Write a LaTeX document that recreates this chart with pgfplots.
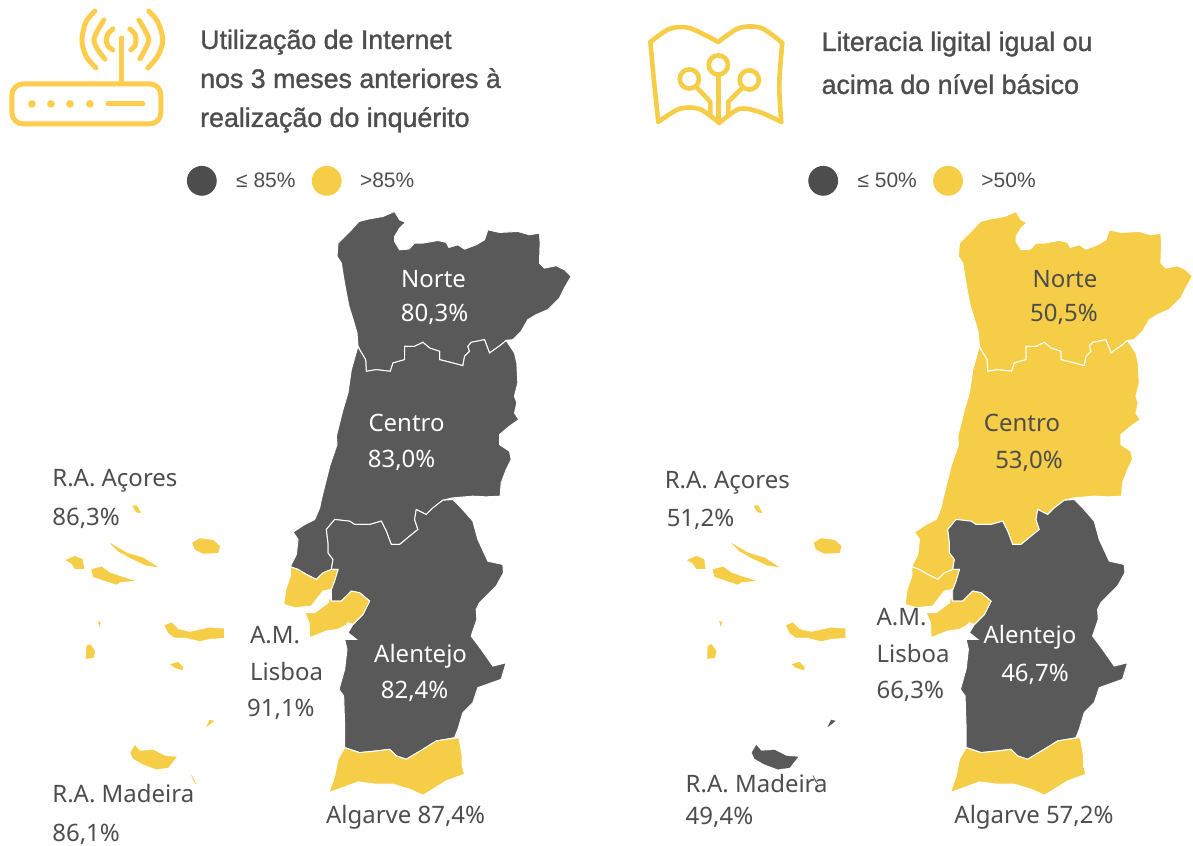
\documentclass[border=0pt]{standalone}
\usepackage{pgfplots}
\usepackage{pgfplotstable}
\usepackage{fontspec}
\pgfplotsset{compat=1.18}
\setmainfont{Liberation Sans}
\newfontfamily\mapfont{Noto Sans}
\definecolor{darkmap}{HTML}{595959}
\definecolor{yellowmap}{HTML}{F5CD47}
\definecolor{darkleg}{HTML}{4D4D4D}
\definecolor{iconr}{HTML}{FFCC4D}
\definecolor{txt}{HTML}{4D4D4D}

% outlines, read from 3x crops: crop px / 3 + crop origin
\pgfplotstableread[row sep=\\]{x y\\
235 440\\ 232 400\\ 222 365\\ 208 320\\ 200 280\\ 192 235\\ 185 190\\ 172 170\\ 175 130\\ 200 105\\ 215 90\\ 238 65\\ 265 58\\ 310 50\\ 345 35\\ 360 60\\ 378 68\\ 360 85\\ 345 110\\ 345 125\\ 360 150\\ 388 148\\ 405 130\\ 430 130\\ 475 122\\ 500 128\\ 508 143\\ 535 135\\ 555 148\\ 590 135\\ 615 120\\ 625 90\\ 660 98\\ 715 95\\ 750 105\\ 780 100\\ 782 130\\ 780 190\\ 795 205\\ 830 198\\ 855 210\\ 875 230\\ 855 265\\ 840 295\\ 805 330\\ 770 345\\ 745 360\\ 725 395\\ 700 420\\ 680 422\\ 665 435\\ 630 460\\ 615 420\\ 575 428\\ 565 440\\ 570 455\\ 555 470\\ 550 498\\ 520 490\\ 480 480\\ 480 455\\ 450 445\\ 430 428\\ 405 440\\ 375 440\\ 375 480\\ 340 490\\ 332 515\\ 290 510\\ 260 515\\ 258 480\\ 240 450\\
}\norte
\pgfplotstableread[row sep=\\]{x y\\
240 450\\ 258 480\\ 260 515\\ 290 510\\ 332 515\\ 340 490\\ 375 480\\ 375 440\\ 405 440\\ 430 428\\ 450 445\\ 480 455\\ 480 480\\ 520 490\\ 550 498\\ 555 470\\ 570 455\\ 565 440\\ 575 428\\ 615 420\\ 630 460\\ 665 435\\ 680 422\\ 705 460\\ 712 490\\ 715 550\\ 705 590\\ 712 610\\ 705 640\\ 718 660\\ 690 680\\ 660 705\\ 660 735\\ 690 755\\ 695 780\\ 680 810\\ 665 850\\ 662 890\\ 620 892\\ 580 890\\ 520 895\\ 490 902\\ 460 925\\ 440 945\\ 410 930\\ 405 960\\ 415 990\\ 390 1010\\ 360 1035\\ 335 1035\\ 320 995\\ 305 965\\ 270 975\\ 225 975\\ 210 965\\ 165 960\\ 140 990\\ 145 1030\\ 145 1060\\ 160 1080\\ 155 1110\\ 130 1120\\ 110 1140\\ 80 1125\\ 55 1110\\ 32 1102\\ 35 1095\\ 50 1065\\ 55 1020\\ 40 998\\ 75 975\\ 105 960\\ 120 925\\ 125 900\\ 150 800\\ 172 735\\ 170 710\\ 190 630\\ 205 580\\ 215 510\\ 235 440\\
}\centro
\pgfplotstableread[row sep=\\]{x y\\
520 32\\ 550 30\\ 575 55\\ 610 95\\ 625 150\\ 655 215\\ 700 225\\ 702 250\\ 680 290\\ 630 340\\ 620 360\\ 622 390\\ 605 440\\ 635 480\\ 670 530\\ 710 520\\ 695 570\\ 625 595\\ 610 640\\ 580 670\\ 565 720\\ 555 745\\ 530 750\\ 500 755\\ 460 780\\ 410 810\\ 380 800\\ 360 780\\ 320 785\\ 270 790\\ 225 775\\ 225 710\\ 222 620\\ 208 600\\ 225 540\\ 232 480\\ 225 450\\ 260 450\\ 235 430\\ 250 405\\ 280 375\\ 300 335\\ 270 310\\ 245 305\\ 235 315\\ 215 335\\ 185 335\\ 185 300\\ 205 240\\ 185 240\\ 190 210\\ 175 190\\ 175 160\\ 170 120\\ 195 90\\ 240 95\\ 255 105\\ 300 105\\ 335 95\\ 350 125\\ 365 165\\ 390 165\\ 420 140\\ 445 120\\ 435 90\\ 440 60\\ 470 75\\ 490 55\\
}\alentejo
\pgfplotstableread[row sep=\\]{x y\\
62 232\\ 85 240\\ 110 255\\ 140 270\\ 160 250\\ 185 240\\ 205 240\\ 195 275\\ 185 300\\ 160 305\\ 140 330\\ 125 350\\ 75 355\\ 42 345\\ 48 300\\ 62 260\\
}\amln
\pgfplotstableread[row sep=\\]{x y\\
105 370\\ 135 370\\ 175 340\\ 178 320\\ 185 335\\ 215 335\\ 235 315\\ 245 305\\ 270 310\\ 300 335\\ 280 375\\ 250 405\\ 235 400\\ 225 410\\ 205 420\\ 170 425\\ 120 445\\ 118 400\\
}\amls
\pgfplotstableread[row sep=\\]{x y\\
225 775\\ 270 790\\ 320 785\\ 360 780\\ 380 800\\ 410 810\\ 460 780\\ 500 755\\ 530 750\\ 568 745\\ 578 800\\ 578 830\\ 585 855\\ 530 875\\ 490 900\\ 460 918\\ 420 900\\ 370 885\\ 320 885\\ 265 878\\ 220 895\\ 178 910\\ 195 860\\ 205 810\\
}\algarve
% islands
\pgfplotstableread[row sep=\\]{x y\\ 278 50\\ 290 48\\ 303 70\\ 290 68\\}\isa
\pgfplotstableread[row sep=\\]{x y\\ 212 162\\ 260 190\\ 310 205\\ 352 232\\ 320 228\\ 270 205\\ 235 185\\}\isb
\pgfplotstableread[row sep=\\]{x y\\ 458 160\\ 480 147\\ 520 152\\ 540 170\\ 535 190\\ 490 192\\ 465 180\\}\isc
\pgfplotstableread[row sep=\\]{x y\\ 78 212\\ 105 200\\ 128 210\\ 132 238\\ 105 238\\ 95 222\\}\isd
\pgfplotstableread[row sep=\\]{x y\\ 155 240\\ 185 232\\ 210 250\\ 245 262\\ 282 274\\ 240 278\\ 230 285\\ 190 272\\ 160 262\\}\ise
\pgfplotstableread[row sep=\\]{x y\\ 375 408\\ 395 400\\ 415 420\\ 450 428\\ 510 415\\ 552 418\\ 552 445\\ 510 448\\ 480 455\\ 440 445\\ 405 445\\ 385 430\\}\isf
\pgfplotstableread[row sep=\\]{x y\\ 392 525\\ 415 518\\ 430 535\\ 428 542\\ 405 535\\}\isg
\pgfplotstableread[row sep=\\]{x y\\ 140 470\\ 150 465\\ 165 485\\ 160 505\\ 138 508\\}\ish
\pgfplotstableread[row sep=\\]{x y\\ 175 395\\ 182 400\\ 178 410\\}\isi
\pgfplotstableread[row sep=\\]{x y\\ 500 712\\ 510 692\\ 522 695\\ 510 705\\}\isj
\pgfplotstableread[row sep=\\]{x y\\ 285 768\\ 300 785\\ 340 782\\ 375 800\\ 410 803\\ 385 835\\ 350 840\\ 310 825\\ 280 808\\ 272 790\\}\madeira
\pgfplotstableread[row sep=\\]{x y\\ 455 858\\ 470 885\\ 462 875\\}\desertas

% table, colour, origin x, origin y
\newcommand\region[4]{\addplot[fill=#2,draw=white,line width=0.5pt] table[x expr=\thisrowno{0}/3+#3,y expr=\thisrowno{1}/3+#4] {#1} -- cycle;}
\newcommand\island[4]{\addplot[fill=#2,draw=#2,line width=0.15pt] table[x expr=\thisrowno{0}/3+#3,y expr=\thisrowno{1}/3+#4] {#1} -- cycle;}
% one map, shifted by #1, colours of the regions
\newcommand\portugal[7]{%
\region{\norte}{#2}{280+#1}{200}
\region{\centro}{#3}{280+#1}{200}
\region{\alentejo}{#4}{270+#1}{490}
\region{\amln}{#5}{270+#1}{490}
\region{\amls}{#5}{270+#1}{490}
\region{\algarve}{#6}{270+#1}{490}
\island{\isa}{yellowmap}{40+#1}{490}
\island{\isb}{yellowmap}{40+#1}{490}
\island{\isc}{yellowmap}{40+#1}{490}
\island{\isd}{yellowmap}{40+#1}{490}
\island{\ise}{yellowmap}{40+#1}{490}
\island{\isf}{yellowmap}{40+#1}{490}
\island{\isg}{yellowmap}{40+#1}{490}
\island{\ish}{yellowmap}{40+#1}{490}
\island{\isi}{yellowmap}{40+#1}{490}
\island{\isj}{#7}{40+#1}{490}
\island{\madeira}{#7}{40+#1}{490}
\island{\desertas}{#7}{40+#1}{490}
}
\newcommand\lab[4][black]{\node[anchor=#2,text=#1,inner sep=0pt] at (axis cs:#3) {\mapfont\fontsize{12}{14}\selectfont #4};}
\newcommand\ttl[2]{\node[anchor=base west,text=txt,inner sep=0pt] at (axis cs:#1) {\addfontfeature{FakeBold=1.2}\fontsize{13.4}{16}\selectfont #2};}
\newcommand\leg[2]{\node[anchor=base west,text=txt,inner sep=0pt] at (axis cs:#1) {\fontsize{10.5}{12}\selectfont #2};}

\begin{document}
\begin{tikzpicture}
\begin{axis}[
    scale only axis,
    width=596.5pt, height=423pt,
    xmin=0, xmax=1193,
    ymin=0, ymax=846,
    y dir=reverse,
    hide axis,
    clip=false,
    icon/.style={iconr, line width=2.5pt, line cap=round, line join=round},
    book/.style={yellowmap, line width=2.3pt, line cap=round, line join=round},
]
% hidden axis adds nothing to the page size
\path (axis cs:0,0) rectangle (axis cs:1193,846);

\portugal{0}{darkmap}{darkmap}{darkmap}{yellowmap}{yellowmap}{yellowmap}
\portugal{622}{yellowmap}{yellowmap}{darkmap}{yellowmap}{yellowmap}{darkmap}

% legend dots
\addplot[only marks, mark=*, mark size=7.25pt, darkleg] coordinates {(202,181) (824,181)};
\addplot[only marks, mark=*, mark size=7.25pt, yellowmap] coordinates {(327,181) (949,181)};

% router icon
\addplot[icon, smooth] coordinates {(95,11) (86,22) (82,40) (86,56) (96,68)};
\addplot[icon, smooth] coordinates {(104,20) (98,30) (94,40) (98,50) (105,59)};
\addplot[icon, smooth] coordinates {(113,29) (108,34) (106.5,40) (108,46) (113,50)};
\addplot[icon, smooth] coordinates {(130,29) (135,34) (136,40) (135,46) (131,50)};
\addplot[icon, smooth] coordinates {(139,20) (145,30) (149,40) (145,50) (140,59)};
\addplot[icon, smooth] coordinates {(149,11) (158,22) (163,40) (158,56) (148,68)};
\addplot[icon] coordinates {(122,38) (122,82)};
\addplot[icon, rounded corners=5.5pt] coordinates {(12,84) (161,84) (161,124) (12,124)} -- cycle;
\addplot[only marks, mark=*, mark size=1.7pt, iconr] coordinates {(32,104) (51,104) (70,104) (90,104)};
\addplot[icon] coordinates {(108,104) (143,104)};

% book icon
\addplot[book, smooth] coordinates {(651,42) (670,29) (690,28) (719,42)};
\addplot[book, smooth] coordinates {(719,42) (740,28) (762,28) (783,43)};
\addplot[book, smooth] coordinates {(783,43) (780,85) (782,122)};
\addplot[book, smooth] coordinates {(782,122) (760,112) (740,109) (720,123)};
\addplot[book, smooth] coordinates {(720,123) (700,109) (680,109) (659,122)};
\addplot[book, smooth] coordinates {(659,122) (655,85) (651,42)};
\addplot[only marks, mark=o, mark size=4.8pt, mark options={draw=yellowmap, line width=2.3pt, fill=none}] coordinates {(719,65) (690,79) (750,80)};
\addplot[book] coordinates {(719,75) (719,120)};
\addplot[book] coordinates {(697,87) (711,102) (711,115)};
\addplot[book] coordinates {(742,89) (729,102) (729,115)};

% titles
\ttl{200,49}{Utilização de Internet}
\ttl{200,88}{nos 3 meses anteriores à}
\ttl{200,127}{realização do inquérito}
\ttl{822,51}{Literacia ligital igual ou}
\ttl{822,94}{acima do nível básico}

\leg{236,188}{≤ 85\%}
\leg{360,188}{>85\%}
\leg{858,188}{≤ 50\%}
\leg{982,188}{>50\%}

% left map labels
\lab[white]{base}{434,288}{Norte}
\lab[white]{base}{435,322}{80,3\%}
\lab[white]{base}{407,432}{Centro}
\lab[white]{base}{402,468}{83,0\%}
\lab[white]{base}{421,663}{Alentejo}
\lab[white]{base}{415,699}{82,4\%}
\lab[txt]{base west}{52,487}{R.A. Açores}
\lab[txt]{base west}{52,526}{86,3\%}
\lab[txt]{base west}{250,644}{A.M.}
\lab[txt]{base west}{250,681}{Lisboa}
\lab[txt]{base west}{247,717}{91,1\%}
\lab[txt]{base west}{52,803}{R.A. Madeira}
\lab[txt]{base west}{52,842}{86,1\%}
\lab[txt]{base}{406,824}{Algarve 87,4\%}

% right map labels
\lab[txt]{base}{1066,288}{Norte}
\lab[txt]{base}{1065,322}{50,5\%}
\lab[txt]{base}{1023,432}{Centro}
\lab[txt]{base}{1030,469}{53,0\%}
\lab[white]{base}{1031,644}{Alentejo}
\lab[white]{base}{1036,682}{46,7\%}
\lab[txt]{base west}{665,489}{R.A. Açores}
\lab[txt]{base west}{667,527}{51,2\%}
\lab[txt]{base west}{877,626}{A.M.}
\lab[txt]{base west}{877,663}{Lisboa}
\lab[txt]{base west}{877,699}{66,3\%}
\lab[txt]{base west}{686,793}{R.A. Madeira}
\lab[txt]{base west}{686,825}{49,4\%}
\lab[txt]{base}{1035,824}{Algarve 57,2\%}
\end{axis}
\end{tikzpicture}
\end{document}
